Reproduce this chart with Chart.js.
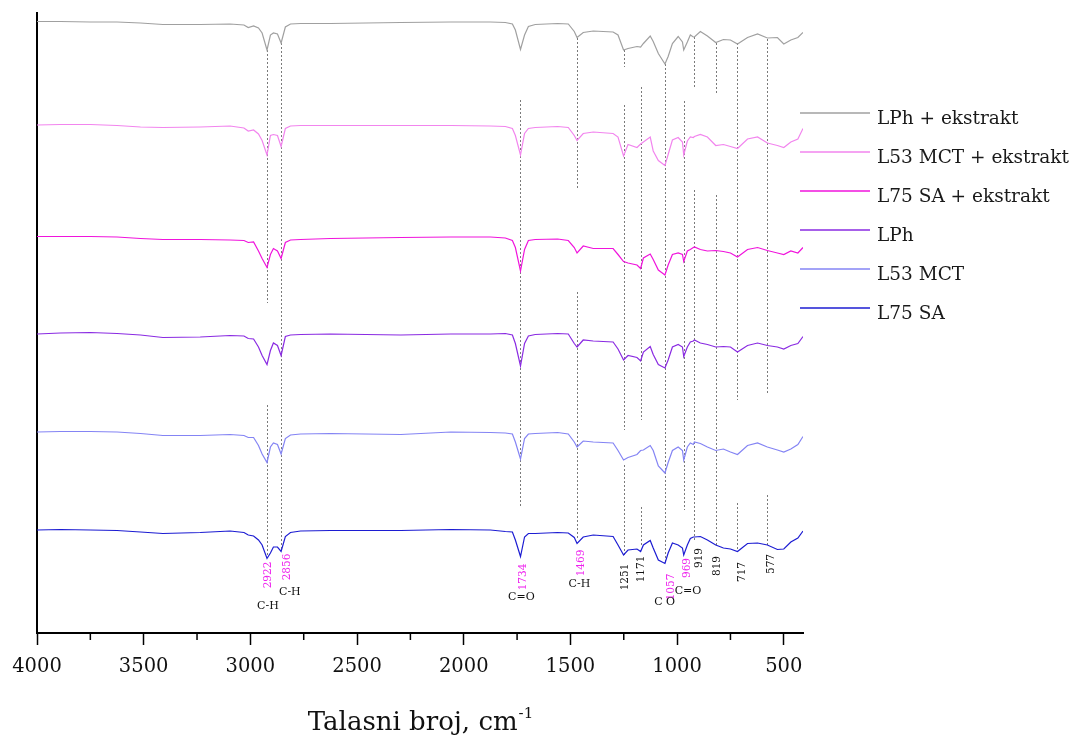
<!DOCTYPE html>
<html>
<head>
<meta charset="utf-8">
<script src="https://cdn.jsdelivr.net/npm/chart.js@4.4.1/dist/chart.umd.min.js"></script>
<style>
  html, body { margin: 0; padding: 0; background: #fff; }
  canvas { display: block; }
</style>
</head>
<body>
<canvas id="chart" width="1074" height="744"></canvas>
<script>
// FTIR spectra, stacked (arbitrary transmittance units)
const wavenumbers = [4000, 3890, 3750, 3625, 3515, 3410, 3235, 3095, 3030, 3010,
  2985, 2962, 2945, 2922, 2906, 2892, 2873, 2856, 2836, 2812,
  2765, 2625, 2295, 2060, 1875, 1805, 1772, 1758, 1734, 1715,
  1697, 1665, 1560, 1510, 1482, 1469, 1440, 1393, 1300, 1277,
  1251, 1230, 1188, 1171, 1158, 1126, 1112, 1088, 1057, 1042,
  1022, 995, 975, 969, 952, 938, 924, 919, 891, 858,
  819, 783, 750, 717, 670, 623, 577, 530, 500, 467,
  434, 410];

const lphExtract = [122.3, 122.3, 122.2, 122.2, 122.0, 121.7, 121.7, 121.8, 121.6, 121.1,
  121.4, 121.0, 120.0, 116.6, 119.6, 120.0, 119.8, 118.0, 121.2, 121.8,
  121.9, 121.9, 122.1, 122.2, 122.2, 122.1, 121.8, 120.6, 116.7, 119.6,
  121.3, 121.7, 121.9, 121.8, 120.3, 119.1, 120.1, 120.4, 120.2, 119.6,
  116.6, 116.9, 117.3, 117.2, 117.9, 119.4, 118.3, 115.9, 113.8, 115.3,
  117.9, 119.3, 118.2, 116.6, 118.2, 119.6, 119.2, 119.2, 120.3, 119.4,
  118.1, 118.7, 118.6, 117.8, 119.1, 119.8, 119.0, 119.1, 117.8, 118.6,
  119.1, 120.1];

const l53Extract = [101.6, 101.7, 101.7, 101.5, 101.2, 101.1, 101.2, 101.4, 101.0, 100.4,
  100.6, 99.8, 98.5, 95.6, 99.5, 99.7, 99.5, 97.3, 100.9, 101.4,
  101.5, 101.5, 101.5, 101.5, 101.4, 101.3, 100.9, 99.5, 95.6, 99.9,
  100.9, 101.1, 101.3, 101.1, 99.5, 98.5, 99.9, 100.2, 99.9, 99.2,
  95.4, 97.7, 97.1, 97.8, 98.2, 99.2, 96.4, 94.5, 93.5, 95.7,
  98.6, 99.1, 98.2, 95.6, 98.4, 99.2, 99.1, 99.3, 99.7, 99.2,
  97.5, 97.7, 97.3, 96.9, 98.8, 99.2, 98.0, 97.5, 97.1, 98.2,
  98.8, 100.9];

const l75Extract = [79.3, 79.3, 79.3, 79.2, 78.9, 78.7, 78.7, 78.6, 78.5, 78.1,
  78.2, 76.4, 74.9, 73.1, 75.7, 76.9, 76.4, 74.9, 78.1, 78.6,
  78.7, 78.9, 79.1, 79.2, 79.2, 79.0, 78.5, 77.1, 72.4, 76.7,
  78.5, 78.7, 78.8, 78.5, 77.1, 76.0, 77.4, 76.9, 76.9, 75.7,
  74.3, 74.0, 73.6, 72.9, 75.0, 75.8, 74.7, 72.6, 71.6, 73.6,
  75.7, 76.0, 75.7, 74.3, 76.4, 76.7, 77.1, 77.2, 76.7, 76.4,
  76.5, 76.3, 76.0, 75.2, 76.7, 77.1, 76.5, 76.0, 75.7, 76.4,
  76.0, 77.1];

const lph = [59.8, 60.0, 60.1, 59.9, 59.6, 59.1, 59.2, 59.5, 59.4, 58.9,
  58.8, 57.2, 55.5, 53.7, 56.5, 58.0, 57.5, 55.5, 59.3, 59.6,
  59.7, 59.8, 59.6, 59.8, 59.8, 59.9, 59.6, 57.9, 53.4, 57.9,
  59.4, 59.7, 59.9, 59.8, 57.9, 57.2, 58.6, 58.4, 58.2, 56.8,
  54.6, 55.5, 55.1, 54.4, 56.2, 57.3, 55.7, 53.7, 53.0, 54.6,
  57.2, 57.7, 57.2, 55.3, 57.2, 58.2, 58.4, 58.6, 58.0, 57.7,
  57.2, 57.3, 57.2, 56.2, 57.5, 58.0, 57.5, 57.2, 56.8, 57.5,
  57.9, 59.3];

const l53 = [40.2, 40.3, 40.3, 40.2, 39.9, 39.5, 39.5, 39.7, 39.5, 39.1,
  39.1, 37.5, 35.8, 34.1, 37.2, 38.0, 37.7, 35.8, 38.9, 39.6,
  39.8, 39.9, 39.7, 40.2, 40.1, 40.0, 39.8, 38.2, 34.8, 38.9,
  39.8, 39.9, 40.1, 39.8, 38.2, 37.2, 38.4, 38.2, 38.0, 36.5,
  34.6, 35.1, 35.7, 36.5, 36.6, 37.5, 36.5, 33.4, 32.0, 34.1,
  36.5, 37.2, 36.5, 34.6, 37.2, 38.0, 37.7, 38.2, 37.9, 37.2,
  36.5, 36.8, 36.2, 35.7, 37.5, 38.0, 37.2, 36.6, 36.2, 36.8,
  37.7, 39.3];

const l75 = [20.6, 20.7, 20.6, 20.5, 20.2, 19.9, 20.1, 20.4, 20.1, 19.6,
  19.4, 18.6, 17.6, 14.9, 16.0, 17.2, 17.2, 16.3, 19.3, 20.1,
  20.4, 20.5, 20.5, 20.7, 20.6, 20.3, 20.2, 18.6, 15.3, 19.2,
  19.9, 19.9, 20.1, 20.0, 19.1, 17.9, 19.2, 19.6, 19.3, 17.6,
  15.6, 16.6, 16.8, 16.3, 17.6, 18.5, 17.0, 14.6, 13.9, 16.0,
  18.0, 17.6, 17.0, 15.6, 17.6, 18.9, 19.2, 19.2, 19.3, 18.6,
  17.6, 17.0, 16.8, 16.3, 17.9, 18.0, 17.6, 16.7, 16.8, 18.2,
  19.0, 20.4];

const seriesNames = ["LPh + ekstrakt", "L53 MCT + ekstrakt", "L75 SA + ekstrakt", "LPh", "L53 MCT", "L75 SA"];
const seriesValues = [lphExtract, l53Extract, l75Extract, lph, l53, l75];
const seriesColors = ["#a0a0a0", "#f285ee", "#f014dc", "#8a2be2", "#8484f4", "#1c1cd2"];

const xTicks = [4000, 3500, 3000, 2500, 2000, 1500, 1000, 500];
const xMinorTicks = [3750, 3250, 2750, 2250, 1750, 1250, 750];

// band positions and the vertical extent of each guide line (y units)
const bandWavenumbers = [2922, 2856, 1734, 1469, 1251, 1171, 1057, 969, 919, 819, 717, 577];
const bandGuides = [
  [[116.6, 66.0], [45.6, 15.6]],
  [[118.0, 16.6]],
  [[106.6, 25.2]],
  [[119.0, 89.0], [68.2, 18.6]],
  [[116.6, 113.2], [105.6, 40.6], [33.6, 15.6]],
  [[109.2, 42.6], [25.2, 17.6]],
  [[113.8, 14.0]],
  [[106.4, 24.6]],
  [[119.2, 109.2], [88.6, 18.6]],
  [[118.0, 108.0], [87.6, 17.6]],
  [[118.0, 46.6], [26.0, 16.6]],
  [[118.8, 47.6], [27.6, 17.6]]
];
const bandHighlighted = [true, true, true, true, false, false, true, true, false, false, false, false];
const groupNames = ["C-H", "C-H", "C=O", "C-H", "C", "O", "C=O"];

const annotationPlugin = {
  id: "bands",
  beforeDatasetsDraw(chart) {
    const { ctx, scales: { x, y } } = chart;
    ctx.save();
    ctx.strokeStyle = "#7a7a7a";
    ctx.lineWidth = 1;
    ctx.setLineDash([2, 2]);
    bandWavenumbers.forEach((w, i) => {
      const px = Math.round(x.getPixelForValue(w)) + 0.5;
      bandGuides[i].forEach(([top, bottom]) => {
        ctx.beginPath();
        ctx.moveTo(px, y.getPixelForValue(top));
        ctx.lineTo(px, y.getPixelForValue(bottom));
        ctx.stroke();
      });
    });
    ctx.restore();
  },
  afterDraw(chart) {
    const { ctx, chartArea, scales: { x, y } } = chart;
    ctx.save();

    // minor ticks on the wavenumber axis
    ctx.strokeStyle = "#000";
    ctx.lineWidth = 1.5;
    xMinorTicks.forEach((v) => {
      const px = x.getPixelForValue(v);
      ctx.beginPath();
      ctx.moveTo(px, chartArea.bottom);
      ctx.lineTo(px, chartArea.bottom + 7);
      ctx.stroke();
    });

    // rotated band labels
    const labelSpots = [[2916, 11.6], [2827, 13.2], [1720, 11.2], [1448, 14.0], [1242, 11.2], [1167, 12.8],
      [1027, 9.2], [952, 13.0], [896, 15.0], [811, 13.4], [693, 12.2], [557, 13.8]];
    ctx.font = '10.5px "DejaVu Serif"';
    ctx.textAlign = "center";
    ctx.textBaseline = "middle";
    bandWavenumbers.forEach((w, i) => {
      const [lx, ly] = labelSpots[i];
      ctx.save();
      ctx.translate(x.getPixelForValue(lx), y.getPixelForValue(ly));
      ctx.rotate(-Math.PI / 2);
      ctx.fillStyle = bandHighlighted[i] ? "#ee22ee" : "#111";
      ctx.fillText(String(w), 0, 0);
      ctx.restore();
    });

    // functional group labels
    const groupSpots = [[2918, 5.4], [2815, 8.2], [1730, 7.2], [1458, 9.8], [1087, 6.2], [1031, 6.2], [949, 8.4]];
    ctx.font = '11px "DejaVu Serif"';
    ctx.fillStyle = "#111";
    groupNames.forEach((g, i) => {
      const [gx, gy] = groupSpots[i];
      ctx.fillText(g, x.getPixelForValue(gx), y.getPixelForValue(gy));
    });

    // axis title with superscript
    const main = "Talasni broj, cm";
    const sup = "-1";
    ctx.textAlign = "left";
    ctx.textBaseline = "alphabetic";
    ctx.font = '26px "DejaVu Serif"';
    const wMain = ctx.measureText(main).width;
    ctx.font = '15px "DejaVu Serif"';
    const wSup = ctx.measureText(sup).width;
    const cx = (chartArea.left + chartArea.right) / 2;
    const startX = cx - (wMain + wSup) / 2;
    ctx.fillStyle = "#111";
    ctx.font = '26px "DejaVu Serif"';
    ctx.fillText(main, startX, 730);
    ctx.font = '15px "DejaVu Serif"';
    ctx.fillText(sup, startX + wMain + 1, 718);

    // legend
    ctx.font = '18.5px "DejaVu Serif"';
    seriesNames.forEach((name, i) => {
      const ly = 113 + i * 39;
      ctx.strokeStyle = seriesColors[i];
      ctx.lineWidth = 1.3;
      ctx.beginPath();
      ctx.moveTo(800, ly);
      ctx.lineTo(870, ly);
      ctx.stroke();
      ctx.fillStyle = "#1a1a1a";
      ctx.fillText(name, 877, ly + 10.5);
    });

    ctx.restore();
  }
};

const datasets = seriesNames.map((name, i) => ({
  label: name,
  data: wavenumbers.map((w, j) => ({ x: w, y: seriesValues[i][j] })),
  borderColor: seriesColors[i],
  borderWidth: 1.2,
  pointRadius: 0,
  tension: 0,
  fill: false
}));

new Chart(document.getElementById("chart").getContext("2d"), {
  type: "line",
  data: { datasets },
  plugins: [annotationPlugin],
  options: {
    responsive: false,
    animation: false,
    layout: { padding: { top: 13, right: 271, left: 0, bottom: 0 } },
    plugins: { legend: { display: false }, tooltip: { enabled: false } },
    scales: {
      x: {
        type: "linear",
        reverse: true,
        min: 410,
        max: 4000,
        afterBuildTicks: (scale) => { scale.ticks = xTicks.map((v) => ({ value: v })); },
        afterFit: (scale) => { scale.height = 111; },
        grid: { display: true, drawOnChartArea: false, drawTicks: true, tickLength: 12, tickColor: "#000", tickWidth: 1.5 },
        border: { display: true, color: "#000", width: 2 },
        ticks: {
          color: "#111",
          font: { family: "DejaVu Serif", size: 19.5 },
          padding: 10,
          maxRotation: 0,
          autoSkip: false,
          callback: (v) => String(v)
        }
      },
      y: {
        min: 0,
        max: 124,
        afterFit: (scale) => { scale.width = 37; },
        ticks: { display: false },
        grid: { display: false },
        border: { display: true, color: "#000", width: 2 }
      }
    }
  }
});
</script>
</body>
</html>
